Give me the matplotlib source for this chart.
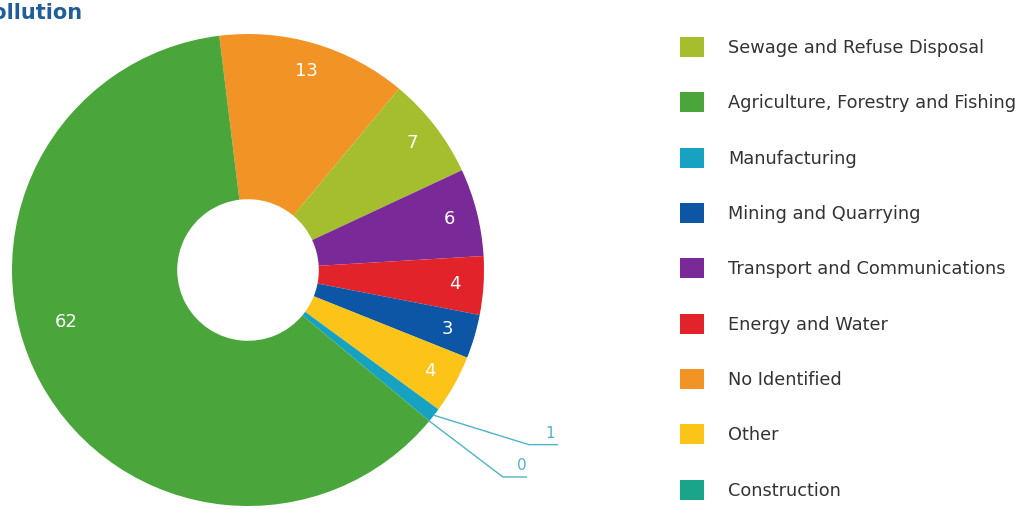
import numpy as np
import matplotlib.pyplot as plt
from matplotlib.patches import Patch

# legend order
categories = ['Sewage and Refuse Disposal', 'Agriculture, Forestry and Fishing', 'Manufacturing',
              'Mining and Quarrying', 'Transport and Communications', 'Energy and Water',
              'No Identified', 'Other', 'Construction']
values = [7, 62, 1, 3, 6, 4, 13, 4, 0]
colors = ['#a4be2d', '#4aa63b', '#17a2c2', '#0d56a6', '#7a2a98', '#e2242a',
          '#f29325', '#fcc318', '#1aa58a']
# order of slices clockwise from the top
pie_order = [6, 0, 4, 5, 3, 7, 2, 8, 1]

fig = plt.figure(figsize=(10.22, 5.09), dpi=100)
ax = fig.add_axes([12 / 1022, 3 / 509, 472 / 1022, 472 / 509])

vals = [values[i] for i in pie_order]
cols = [colors[i] for i in pie_order]
wedges, _ = ax.pie(vals, colors=cols, startangle=97, counterclock=False, radius=1,
                   wedgeprops=dict(width=0.7, linewidth=0))
ax.set_xlim(-1, 1)
ax.set_ylim(-1, 1)
ax.set_aspect('equal')

# value labels inside the ring
for w, v in zip(wedges, vals):
    if v < 2:
        continue
    frac = 0.5
    r = 0.88
    if v > 50:
        frac = 0.443
        r = 0.8
    ang = np.deg2rad(w.theta1 + frac * (w.theta2 - w.theta1))
    ax.text(r * np.cos(ang), r * np.sin(ang), str(v), color='white', fontsize=13,
            ha='center', va='center')

# leader lines for the tiny slices
lead_col = '#4fb3c6'
small = [(w, v) for w, v in zip(wedges, vals) if v < 2]
targets = [((1.19, -0.74), (1.31, -0.74)), ((1.08, -0.877), (1.18, -0.877))]
for (w, v), (p1, p2) in zip(small, targets):
    ang = np.deg2rad(0.5 * (w.theta1 + w.theta2))
    x0, y0 = np.cos(ang), np.sin(ang)
    ax.plot([x0, p1[0], p2[0]], [y0, p1[1], p2[1]], color=lead_col, lw=1, clip_on=False)
    ax.text(0.5 * (p1[0] + p2[0]) + 0.03, p1[1] + 0.015, str(v), color=lead_col,
            fontsize=11, ha='center', va='bottom', clip_on=False)

handles = [Patch(facecolor=c, edgecolor='none') for c in colors]
fig.legend(handles, categories, loc='upper left', bbox_to_anchor=(680 / 1022, 1 - 37 / 509),
           frameon=False, labelspacing=1.99, handlelength=1.35, handleheight=1.35,
           handletextpad=1.35, borderpad=0, borderaxespad=0, labelcolor='#333333',
           prop={'size': 12.8})

fig.text(-0.022, 0.995, 'Pollution', color='#1f5e98', fontsize=15, fontweight='bold',
         ha='left', va='top')

fig.savefig('out.png', dpi=100)
